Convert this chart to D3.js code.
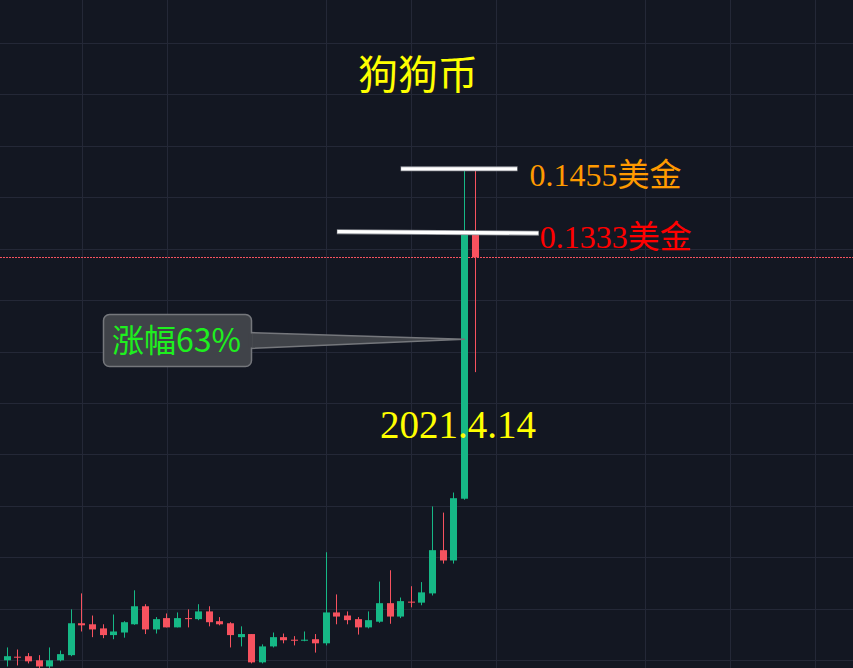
<!DOCTYPE html>
<html>
<head>
<meta charset="utf-8">
<script src="https://cdn.jsdelivr.net/npm/d3@7"></script>
<style>
  html, body { margin: 0; padding: 0; background: #131722; }
  svg { display: block; }
</style>
</head>
<body>
<div id="chart"></div>
<script>
const width = 853
const height = 668

// daily candles, index 0 is the half-hidden one on the left edge
const opens = [0.0478, 0.0500, 0.0507, 0.0508, 0.0500, 0.0488, 0.0500, 0.0510, 0.0572, 0.0570, 0.0562, 0.0549, 0.0554, 0.0570, 0.0605, 0.0560, 0.0582, 0.0564, 0.0582, 0.0580, 0.0595, 0.0576, 0.0572, 0.0545, 0.0551, 0.0496, 0.0527, 0.0545, 0.0540, 0.0538, 0.0541, 0.0533, 0.0593, 0.0587, 0.0580, 0.0564, 0.0575, 0.0611, 0.0585, 0.0614, 0.0612, 0.0630, 0.0714, 0.0694, 0.0814, 0.1333]
const highs = [0.0505, 0.0525, 0.0521, 0.0514, 0.0510, 0.0525, 0.0519, 0.0599, 0.0630, 0.0587, 0.0570, 0.0589, 0.0576, 0.0636, 0.0609, 0.0584, 0.0591, 0.0593, 0.0599, 0.0609, 0.0605, 0.0584, 0.0574, 0.0566, 0.0551, 0.0531, 0.0554, 0.0552, 0.0547, 0.0556, 0.0551, 0.0710, 0.0628, 0.0595, 0.0584, 0.0595, 0.0653, 0.0675, 0.0622, 0.0644, 0.0652, 0.0799, 0.0787, 0.0826, 0.1451, 0.1451]
const lows = [0.0475, 0.0488, 0.0490, 0.0494, 0.0485, 0.0485, 0.0498, 0.0508, 0.0556, 0.0545, 0.0543, 0.0541, 0.0544, 0.0569, 0.0551, 0.0552, 0.0564, 0.0564, 0.0564, 0.0578, 0.0566, 0.0568, 0.0525, 0.0527, 0.0494, 0.0494, 0.0525, 0.0533, 0.0529, 0.0537, 0.0515, 0.0529, 0.0570, 0.0570, 0.0550, 0.0562, 0.0573, 0.0571, 0.0582, 0.0603, 0.0607, 0.0626, 0.0688, 0.0688, 0.0812, 0.1060]
const closes = [0.0502, 0.0508, 0.0506, 0.0498, 0.0488, 0.0500, 0.0512, 0.0572, 0.0568, 0.0560, 0.0549, 0.0556, 0.0574, 0.0605, 0.0560, 0.0580, 0.0564, 0.0582, 0.0580, 0.0595, 0.0574, 0.0570, 0.0549, 0.0551, 0.0496, 0.0527, 0.0545, 0.0539, 0.0538, 0.0540, 0.0533, 0.0593, 0.0585, 0.0578, 0.0564, 0.0578, 0.0611, 0.0585, 0.0615, 0.0612, 0.0632, 0.0714, 0.0694, 0.0815, 0.1332, 0.1283]

// grid
const priceTicks = [0.05, 0.06, 0.07, 0.08, 0.09, 0.10, 0.11, 0.12, 0.13, 0.14, 0.15, 0.16, 0.17]
const dateGridIdx = [8, 16, 31, 39, 47, 61, 69, 77]

// annotations
const title = '狗狗币'
const levelValues = [0.1455, 0.1333]
const levelLabels = ['0.1455美金', '0.1333美金']
const levelSpans = [[38, 49], [32, 51]]
const riseLabel = '涨幅63%'
const riseIdx = 44
const risePrice = 0.1124
const dateLabel = '2021.4.14'

const upColor = '#16b886'
const downColor = '#f7525f'

const svg = d3
  .select('#chart')
  .append('svg')
  .attr('width', width)
  .attr('height', height)

svg
  .append('rect')
  .attr('width', width)
  .attr('height', height)
  .attr('fill', '#131722')

const xScale = d3.scaleLinear().domain([0, 80]).range([-3.3, 847.1])
const yScale = d3.scaleLinear().domain([0.05, 0.15]).range([660.3, 145.7])

// grid lines
svg
  .selectAll('.hgrid')
  .data(priceTicks)
  .enter()
  .append('line')
  .attr('class', 'hgrid')
  .attr('x1', 0)
  .attr('x2', width)
  .attr('y1', d => Math.round(yScale(d)) + 0.5)
  .attr('y2', d => Math.round(yScale(d)) + 0.5)
  .attr('stroke', '#242837')
  .attr('stroke-width', 1)

svg
  .selectAll('.vgrid')
  .data(dateGridIdx)
  .enter()
  .append('line')
  .attr('class', 'vgrid')
  .attr('x1', d => Math.round(xScale(d)) + 0.5)
  .attr('x2', d => Math.round(xScale(d)) + 0.5)
  .attr('y1', 0)
  .attr('y2', height)
  .attr('stroke', '#242837')
  .attr('stroke-width', 1)

// last price line
const lastClose = closes[closes.length - 1]
svg
  .append('line')
  .attr('x1', 0)
  .attr('x2', width)
  .attr('y1', Math.round(yScale(lastClose)) + 0.5)
  .attr('y2', Math.round(yScale(lastClose)) + 0.5)
  .attr('stroke', downColor)
  .attr('stroke-width', 1)
  .attr('stroke-dasharray', '2,1')

// candles
const candles = opens.map((o, i) => ({
  i: i,
  open: o,
  high: highs[i],
  low: lows[i],
  close: closes[i]
}))

const candle = svg
  .selectAll('.candle')
  .data(candles)
  .enter()
  .append('g')
  .attr('class', 'candle')
  .attr('fill', d => (d.close >= d.open ? upColor : downColor))

candle
  .append('rect')
  .attr('x', d => Math.round(xScale(d.i) - 0.5))
  .attr('width', 1)
  .attr('y', d => yScale(d.high))
  .attr('height', d => yScale(d.low) - yScale(d.high))

candle
  .append('rect')
  .attr('x', d => Math.round(xScale(d.i) - 3.5))
  .attr('width', 7)
  .attr('y', d => yScale(Math.max(d.open, d.close)))
  .attr('height', d =>
    Math.max(1, Math.abs(yScale(d.open) - yScale(d.close)))
  )

// title
svg
  .append('text')
  .text(title)
  .attr('x', 418)
  .attr('y', 89)
  .attr('text-anchor', 'middle')
  .attr('font-family', '"Noto Sans CJK SC", sans-serif')
  .attr('font-size', 40)
  .attr('fill', '#ffff00')

// white level lines with price labels
const levelColors = ['#ff9a00', '#ff0000']
const labelOffsets = [[12, 17], [1, 16]]

levelValues.forEach((v, k) => {
  const x1 = xScale(levelSpans[k][0])
  const x2 = xScale(levelSpans[k][1])
  const tilt = k === 1 ? 1.5 : 0
  const y = yScale(v)
  svg
    .append('line')
    .attr('x1', x1)
    .attr('x2', x2)
    .attr('y1', y)
    .attr('y2', y + tilt)
    .attr('stroke', '#8a8d94')
    .attr('stroke-width', 5)
  svg
    .append('line')
    .attr('x1', x1 + 0.5)
    .attr('x2', x2 - 0.5)
    .attr('y1', y)
    .attr('y2', y + tilt)
    .attr('stroke', '#ffffff')
    .attr('stroke-width', 3.4)
  svg
    .append('text')
    .text(levelLabels[k])
    .attr('x', x2 + labelOffsets[k][0])
    .attr('y', y + labelOffsets[k][1])
    .attr('font-family', '"Liberation Serif", "Noto Sans CJK SC", serif')
    .attr('font-size', 32)
    .attr('fill', levelColors[k])
})

// callout box pointing at the big candle
const tipX = xScale(riseIdx)
const tipY = yScale(risePrice)
const box = { x: 103.5, y: 314.5, w: 148, h: 52 }

svg
  .append('path')
  .attr(
    'd',
    `M${box.x + box.w - 2},${box.y + 18} L${tipX},${tipY} L${box.x + box.w - 2},${box.y + 34} Z`
  )
  .attr('fill', '#404349')
  .attr('stroke', '#75777c')
  .attr('stroke-width', 1.5)
  .attr('stroke-linejoin', 'round')

svg
  .append('rect')
  .attr('x', box.x)
  .attr('y', box.y)
  .attr('width', box.w)
  .attr('height', box.h)
  .attr('rx', 6)
  .attr('fill', '#404349')
  .attr('stroke', '#75777c')
  .attr('stroke-width', 1.5)

// cover the seam between box and tail
svg
  .append('rect')
  .attr('x', box.x + box.w - 3)
  .attr('y', box.y + 19)
  .attr('width', 4)
  .attr('height', 14)
  .attr('fill', '#404349')

svg
  .append('text')
  .text(riseLabel)
  .attr('x', 112)
  .attr('y', 351.5)
  .attr('font-family', '"Noto Sans CJK SC", sans-serif')
  .attr('font-size', 32)
  .attr('fill', '#1ef01e')

// date label
svg
  .append('text')
  .text(dateLabel)
  .attr('x', 380)
  .attr('y', 438)
  .attr('font-family', '"Liberation Serif", serif')
  .attr('font-size', 39)
  .attr('fill', '#ffff00')
</script>
</body>
</html>
